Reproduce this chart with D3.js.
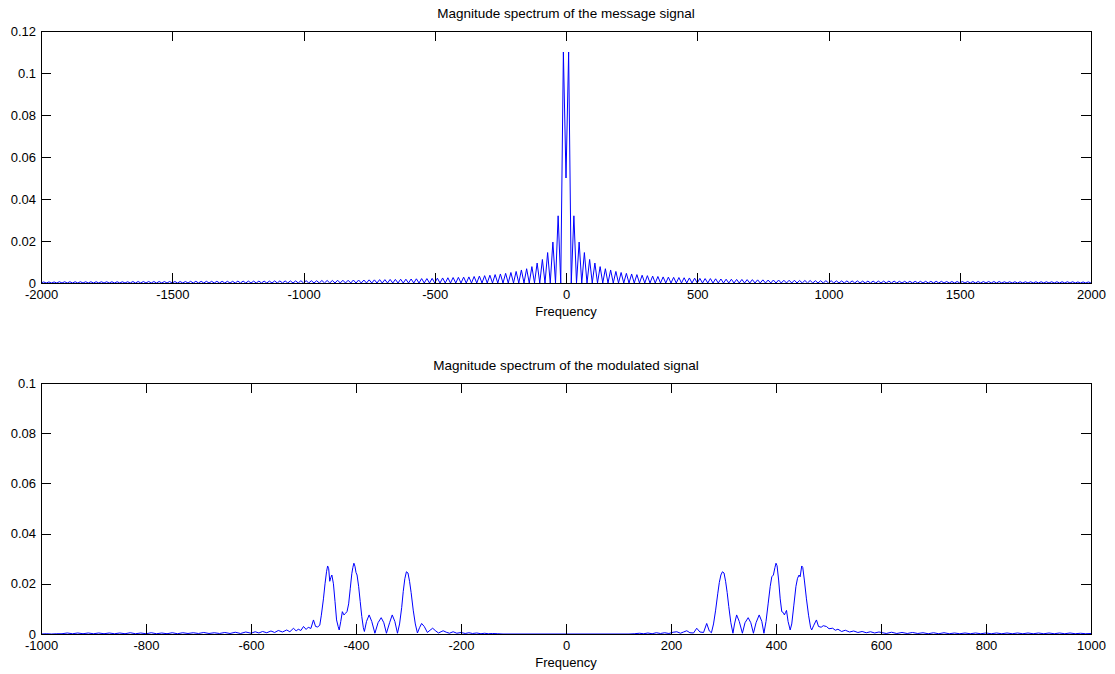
<!DOCTYPE html>
<html>
<head>
<meta charset="utf-8">
<script src="https://cdn.jsdelivr.net/npm/d3@7"></script>
<style>
  body { margin: 0; background: #fff; }
  svg text { font-family: "Liberation Sans", Arial, Helvetica, sans-serif; fill: #000; }
</style>
</head>
<body>
<svg width="1115" height="674"></svg>
<script>
// ---- tick values ----
const msgXTicks = [-2000, -1500, -1000, -500, 0, 500, 1000, 1500, 2000];
const msgYTicks = [0, 0.02, 0.04, 0.06, 0.08, 0.1, 0.12];
const modXTicks = [-1000, -800, -600, -400, -200, 0, 200, 400, 600, 800, 1000];
const modYTicks = [0, 0.02, 0.04, 0.06, 0.08, 0.1];

// ---- message spectrum, one value every 10 Hz from -2000 to 2000 ----
const msgFreq = d3.range(-2000, 2001, 10);
const msgMag = [
  0,.0005,0,.0005,0,.0005,0,.0006,0,.0006,
  0,.0006,0,.0006,0,.0006,0,.0006,0,.0006,
  0,.0006,0,.0006,0,.0006,0,.0006,0,.0006,
  0,.0006,0,.0006,0,.0007,0,.0007,0,.0007,
  0,.0007,0,.0007,0,.0007,0,.0007,0,.0007,
  0,.0007,0,.0007,0,.0007,0,.0008,0,.0008,
  0,.0008,0,.0008,0,.0008,0,.0008,0,.0008,
  0,.0008,0,.0008,0,.0009,0,.0009,0,.0009,
  0,.0009,0,.0009,0,.0009,0,.0009,0,.001,
  0,.001,0,.001,0,.001,0,.001,0,.0011,
  0,.0011,0,.0011,0,.0011,0,.0012,0,.0012,
  0,.0012,0,.0013,0,.0013,0,.0013,0,.0014,
  0,.0014,0,.0014,0,.0015,0,.0015,0,.0016,
  0,.0016,0,.0017,0,.0017,0,.0018,0,.0018,
  0,.0019,0,.002,0,.0021,0,.0021,0,.0022,
  0,.0023,0,.0024,0,.0025,0,.0026,0,.0027,
  0,.0028,0,.0029,0,.0031,0,.0033,0,.0035,
  0,.0037,0,.004,0,.0043,0,.0046,0,.005,
  0,.0055,0,.0062,0,.0068,0,.0078,0,.0095,
  0,.0112,0,.0145,0,.0195,0,.032,0,.11,
  .05,.11,0,.032,0,.0195,0,.0145,0,.0112,
  0,.0095,0,.0078,0,.0068,0,.0062,0,.0055,
  0,.005,0,.0046,0,.0043,0,.004,0,.0037,
  0,.0035,0,.0033,0,.0031,0,.0029,0,.0028,
  0,.0027,0,.0026,0,.0025,0,.0024,0,.0023,
  0,.0022,0,.0021,0,.0021,0,.002,0,.0019,
  0,.0018,0,.0018,0,.0017,0,.0017,0,.0016,
  0,.0016,0,.0015,0,.0015,0,.0014,0,.0014,
  0,.0014,0,.0013,0,.0013,0,.0013,0,.0012,
  0,.0012,0,.0012,0,.0011,0,.0011,0,.0011,
  0,.0011,0,.001,0,.001,0,.001,0,.001,
  0,.001,0,.0009,0,.0009,0,.0009,0,.0009,
  0,.0009,0,.0009,0,.0009,0,.0008,0,.0008,
  0,.0008,0,.0008,0,.0008,0,.0008,0,.0008,
  0,.0008,0,.0008,0,.0007,0,.0007,0,.0007,
  0,.0007,0,.0007,0,.0007,0,.0007,0,.0007,
  0,.0007,0,.0007,0,.0007,0,.0006,0,.0006,
  0,.0006,0,.0006,0,.0006,0,.0006,0,.0006,
  0,.0006,0,.0006,0,.0006,0,.0006,0,.0006,
  0,.0006,0,.0006,0,.0005,0,.0005,0,.0005,
  0
];

// ---- modulated spectrum, [frequency, magnitude] ----
const modFarLeft = [
  [-1000,0],[-990,0.0001],[-980,0],[-970,0.0001],[-960,0.0001],[-950,0.0004],[-940,0.0001],[-930,0.0004],
  [-920,0.0001],[-910,0.0004],[-900,0.0001],[-890,0.0004],[-880,0.0001],[-870,0.0004],[-860,0.0001],
  [-850,0.0004],[-840,0.0001],[-830,0.0005],[-820,0.0001],[-810,0.0004],[-800,0.0001],[-790,0.0005],
  [-780,0.0001],[-770,0.0004],[-760,0.0001],[-750,0.0005],[-740,0.0001],[-730,0.0005],[-720,0.0002],
  [-710,0.0005],[-700,0.0002],[-690,0.0006],[-680,0.0002],[-670,0.0005],[-660,0.0002],[-650,0.0006],
  [-640,0.0002],[-630,0.0007],[-620,0.0002],[-610,0.0008]
];
const modLeftBand = [
  [-600,0.0003],[-592,0.0009],[-585,0.0004],[-578,0.001],[-570,0.0005],[-562,0.0012],[-555,0.0006],
  [-548,0.0014],[-540,0.0008],[-532,0.0016],[-526,0.0009],[-519,0.0023],[-514,0.0012],[-510,0.0019],
  [-505,0.0014],[-500,0.003],[-495,0.0018],[-491,0.0027],[-486,0.0022],[-481,0.0056],[-477,0.003],
  [-473,0.0028],[-469,0.0035],[-466,0.0075],[-462,0.014],[-459,0.02],[-456,0.025],[-454,0.0271],
  [-452,0.026],[-450,0.021],[-448,0.0225],[-446,0.0235],[-443,0.02],[-440,0.013],[-437,0.0056],
  [-434,0.003],[-432,0.0016],[-429,0.005],[-426,0.0089],[-423,0.0076],[-420,0.0082],[-417,0.009],
  [-414,0.012],[-411,0.018],[-408,0.024],[-406,0.0265],[-404,0.0282],[-402,0.027],[-400,0.0245],
  [-398,0.0235],[-395,0.019],[-392,0.013],[-389,0.007],[-386,0.0025],[-384,0.001],[-380,0.005],
  [-375,0.0076],[-370,0.005],[-364,0.0003],[-358,0.0045],[-352,0.0065],[-347,0.0045],[-342,0.0003],
  [-336,0.0045],[-331,0.0076],[-326,0.005],[-321,0.0003],[-317,0.004],[-313,0.0105],[-310,0.017],
  [-307,0.022],[-304,0.0248],[-301,0.0243],[-298,0.021],[-295,0.0165],[-291,0.0095],[-287,0.004],
  [-283,0.0004],[-279,0.0025],[-275,0.0042],[-270,0.003],[-264,0.0006],[-259,0.0015],[-254,0.0023],
  [-248,0.0012],[-243,0.0004],[-238,0.0009],[-234,0.0013],[-228,0.0007],[-222,0.0003],[-215,0.0009],
  [-208,0.0003],[-200,0.0006],[-192,0.0002],[-185,0.0005],[-178,0.0002],[-170,0.0004],[-162,0.0001],
  [-155,0.0003],[-148,0.0001],[-140,0.0002],[-130,0.0001]
];
const modCenter = [[-120,0],[0,0],[120,0]];
const modRightBand = [
  [130,0.0001],[140,0.0003],[148,0.0001],[156,0.0004],[164,0.0001],[172,0.0005],[180,0.0002],
  [188,0.0005],[196,0.0002],[204,0.0007],[211,0.0009],[218,0.0003],[224,0.0008],[230,0.0013],
  [236,0.0005],[243,0.0004],[249,0.0023],[255,0.0008],[262,0.0006],[268,0.0042],[273,0.0012],
  [277,0.0005],[281,0.004],[285,0.0095],[289,0.016],[292,0.0205],[295,0.0235],[298,0.0248],
  [301,0.0243],[304,0.021],[307,0.0165],[310,0.011],[314,0.0045],[318,0.0003],[321,0.004],
  [325,0.0076],[330,0.005],[336,0.0003],[341,0.0045],[347,0.0065],[352,0.0045],[357,0.0003],
  [362,0.0045],[368,0.0076],[373,0.005],[377,0.0003],[381,0.005],[385,0.012],[389,0.019],
  [392,0.0228],[395,0.0235],[398,0.0265],[400,0.0282],[402,0.0272],[405,0.0215],[408,0.014],
  [411,0.0089],[414,0.0085],[416,0.0076],[418,0.0085],[420,0.0094],[423,0.005],[427,0.0016],
  [430,0.004],[434,0.0115],[438,0.019],[441,0.0222],[444,0.0235],[446,0.0228],[449,0.0271],
  [451,0.0265],[454,0.0215],[458,0.014],[462,0.0075],[466,0.0025],[468,0.0016],[472,0.0035],
  [477,0.0056],[481,0.003],[486,0.0027],[490,0.0033],[496,0.003],[501,0.0021],[508,0.0023],
  [513,0.0015],[518,0.0019],[525,0.001],[532,0.0015],[540,0.0008],[548,0.0012],[556,0.0006],
  [564,0.001],[572,0.0005],[580,0.0009],[588,0.0004],[596,0.0008]
];
const modFarRight = [
  [610,0.0002],[620,0.0007],[630,0.0002],[640,0.0006],[650,0.0002],[660,0.0006],[670,0.0002],
  [680,0.0005],[690,0.0001],[700,0.0005],[710,0.0001],[720,0.0005],[730,0.0001],[740,0.0004],
  [750,0.0001],[760,0.0004],[770,0.0001],[780,0.0004],[790,0.0001],[800,0.0004],[810,0.0001],
  [820,0.0004],[830,0.0001],[840,0.0004],[850,0.0001],[860,0.0004],[870,0.0001],[880,0.0004],
  [890,0.0001],[900,0.0004],[910,0.0001],[920,0.0004],[930,0.0001],[940,0.0004],[950,0.0001],
  [960,0.0004],[970,0.0001],[980,0.0003],[990,0.0001],[1000,0.0002]
];

const svg = d3.select("svg");
const left = 41, right = 1091;

function drawPanel(p) {
  const x = d3.scaleLinear().domain(p.xDomain).range([left, right]);
  const y = d3.scaleLinear().domain(p.yDomain).range([p.bottom, p.top]);
  const g = svg.append("g");

  const styleAxis = (sel) => {
    sel.select(".domain").remove();
    sel.selectAll("line").attr("stroke", "#000").attr("shape-rendering", "crispEdges");
    sel.selectAll("text").attr("font-size", 13).attr("font-family", null).attr("fill", "#000");
    sel.attr("font-family", null);
  };

  // data line
  const line = d3.line().x(d => x(d[0])).y(d => y(d[1]));
  g.append("path")
    .datum(p.points)
    .attr("fill", "none")
    .attr("stroke", "#0000ff")
    .attr("stroke-width", 1)
    .attr("d", line);

  // axes, ticks pointing inward
  g.append("g").attr("transform", `translate(0,${p.bottom})`)
    .call(d3.axisBottom(x).tickValues(p.xTicks).tickFormat(d => String(d))
      .tickSizeInner(-10).tickSizeOuter(0).tickPadding(7))
    .call(styleAxis);
  g.append("g").attr("transform", `translate(0,${p.top})`)
    .call(d3.axisTop(x).tickValues(p.xTicks).tickFormat("")
      .tickSizeInner(-10).tickSizeOuter(0))
    .call(styleAxis);
  g.append("g").attr("transform", `translate(${left},0)`)
    .call(d3.axisLeft(y).tickValues(p.yTicks).tickFormat(d => String(d))
      .tickSizeInner(-10).tickSizeOuter(0).tickPadding(5))
    .call(styleAxis);
  g.append("g").attr("transform", `translate(${right},0)`)
    .call(d3.axisRight(y).tickValues(p.yTicks).tickFormat("")
      .tickSizeInner(-10).tickSizeOuter(0))
    .call(styleAxis);

  // box
  g.append("rect")
    .attr("x", left).attr("y", p.top)
    .attr("width", right - left).attr("height", p.bottom - p.top)
    .attr("fill", "none").attr("stroke", "#000")
    .attr("shape-rendering", "crispEdges");

  g.append("text")
    .attr("x", (left + right) / 2).attr("y", p.top - 13.5)
    .attr("text-anchor", "middle").attr("font-size", 13.5)
    .text(p.title);
  g.append("text")
    .attr("x", (left + right) / 2).attr("y", p.bottom + 33)
    .attr("text-anchor", "middle").attr("font-size", 13)
    .text("Frequency");
}

drawPanel({
  top: 31, bottom: 283,
  xDomain: [-2000, 2000], yDomain: [0, 0.12],
  xTicks: msgXTicks, yTicks: msgYTicks,
  points: msgFreq.map((f, i) => [f, msgMag[i]]),
  title: "Magnitude spectrum of the message signal"
});

drawPanel({
  top: 383, bottom: 634,
  xDomain: [-1000, 1000], yDomain: [0, 0.1],
  xTicks: modXTicks, yTicks: modYTicks,
  points: [].concat(modFarLeft, modLeftBand, modCenter, modRightBand, modFarRight),
  title: "Magnitude spectrum of the modulated signal"
});
</script>
</body>
</html>
